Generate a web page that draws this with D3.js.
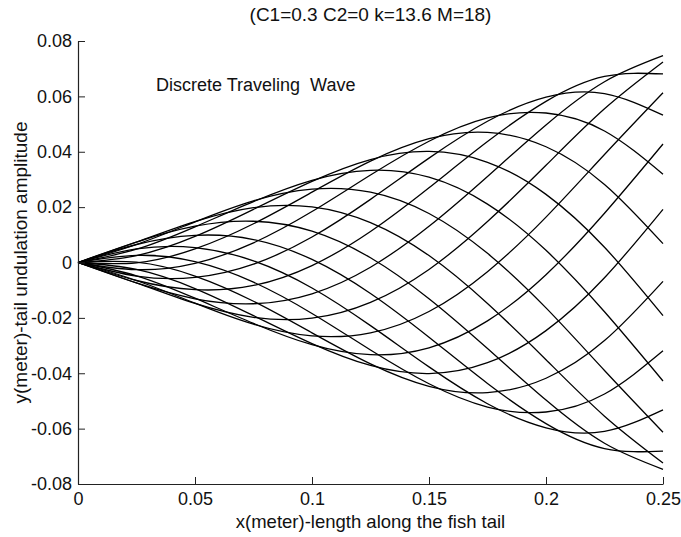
<!DOCTYPE html>
<html>
<head>
  <meta charset="utf-8">
  <title>Discrete Traveling Wave</title>
  <script src="https://cdn.jsdelivr.net/npm/d3@7"></script>
  <style>
    body { margin: 0; background: #fff; }
    text { font-family: "Liberation Sans", Arial, sans-serif; fill: #111; }
    .axis path, .axis line { stroke: #222; stroke-width: 1; }
    .axis text { font-size: 18px; }
  </style>
</head>
<body>
  <svg id="chart"></svg>
  <script>
    // positions along the tail (m)
    var xPos = [0, 0.025, 0.05, 0.075, 0.1, 0.125, 0.15, 0.175, 0.2, 0.225, 0.25];

    // tail displacement (m) of each of the 18 snapshots, read at xPos
    var w01 = [0, 0.0025, 0.0094, 0.0192, 0.0293, 0.0372, 0.0401, 0.0362, 0.0246, 0.0055, -0.0192];
    var w02 = [0, -0.0001, 0.0049, 0.0140, 0.0254, 0.0366, 0.0447, 0.0470, 0.0418, 0.0282, 0.0068];
    var w03 = [0, -0.0026, -0.0003, 0.0071, 0.0184, 0.0316, 0.0438, 0.0522, 0.0540, 0.0475, 0.0319];
    var w04 = [0, -0.0049, -0.0054, -0.0006, 0.0092, 0.0228, 0.0377, 0.0510, 0.0597, 0.0610, 0.0532];
    var w05 = [0, -0.0065, -0.0098, -0.0083, -0.0011, 0.0112, 0.0270, 0.0437, 0.0582, 0.0672, 0.0681];
    var w06 = [0, -0.0074, -0.0131, -0.0149, -0.0113, -0.0017, 0.0131, 0.0311, 0.0497, 0.0653, 0.0747];
    var w07 = [0, -0.0074, -0.0148, -0.0198, -0.0201, -0.0144, -0.0025, 0.0148, 0.0351, 0.0555, 0.0724];
    var w08 = [0, -0.0065, -0.0147, -0.0223, -0.0265, -0.0254, -0.0177, -0.0033, 0.0164, 0.0390, 0.0613];
    var w09 = [0, -0.0048, -0.0129, -0.0220, -0.0297, -0.0333, -0.0308, -0.0211, -0.0044, 0.0178, 0.0428];
    var w10 = [0, -0.0025, -0.0094, -0.0192, -0.0293, -0.0372, -0.0401, -0.0362, -0.0246, -0.0055, 0.0192];
    var w11 = [0, 0.0001, -0.0049, -0.0140, -0.0254, -0.0366, -0.0447, -0.0470, -0.0418, -0.0282, -0.0068];
    var w12 = [0, 0.0026, 0.0003, -0.0071, -0.0184, -0.0316, -0.0438, -0.0522, -0.0540, -0.0475, -0.0319];
    var w13 = [0, 0.0049, 0.0054, 0.0006, -0.0092, -0.0228, -0.0377, -0.0510, -0.0597, -0.0610, -0.0532];
    var w14 = [0, 0.0065, 0.0098, 0.0083, 0.0011, -0.0112, -0.0270, -0.0437, -0.0582, -0.0672, -0.0681];
    var w15 = [0, 0.0074, 0.0131, 0.0149, 0.0113, 0.0017, -0.0131, -0.0311, -0.0497, -0.0653, -0.0747];
    var w16 = [0, 0.0074, 0.0148, 0.0198, 0.0201, 0.0144, 0.0025, -0.0148, -0.0351, -0.0555, -0.0724];
    var w17 = [0, 0.0065, 0.0147, 0.0223, 0.0265, 0.0254, 0.0177, 0.0033, -0.0164, -0.0390, -0.0613];
    var w18 = [0, 0.0048, 0.0129, 0.0220, 0.0297, 0.0333, 0.0308, 0.0211, 0.0044, -0.0178, -0.0428];
    var waves = [w01, w02, w03, w04, w05, w06, w07, w08, w09, w10, w11, w12, w13, w14, w15, w16, w17, w18];

    // axis ticks
    var xTicks = [0, 0.05, 0.1, 0.15, 0.2, 0.25];
    var xTickLabels = ['0', '0.05', '0.1', '0.15', '0.2', '0.25'];
    var yTicks = [-0.08, -0.06, -0.04, -0.02, 0, 0.02, 0.04, 0.06, 0.08];
    var yTickLabels = ['-0.08', '-0.06', '-0.04', '-0.02', '0', '0.02', '0.04', '0.06', '0.08'];

    var W = 681, H = 537;
    var margin = { top: 41, right: 18, bottom: 53, left: 78 };
    var width = W - margin.left - margin.right,
      height = H - margin.top - margin.bottom;

    var x = d3.scaleLinear().domain([0, 0.25]).range([0, width]);
    var y = d3.scaleLinear().domain([-0.08, 0.08]).range([height, 0]);

    var svg = d3.select('#chart')
      .attr('width', W)
      .attr('height', H);

    var g = svg.append('g')
      .attr('transform', 'translate(' + margin.left + ',' + margin.top + ')');

    var line = d3.line()
      .x((d, i) => x(xPos[i]))
      .y(d => y(d))
      .curve(d3.curveNatural);

    g.selectAll('path.wave')
      .data(waves)
      .enter()
      .append('path')
      .attr('class', 'wave')
      .attr('d', line)
      .style('fill', 'none')
      .style('stroke', '#000')
      .style('stroke-width', 1.3);

    var xAxis = d3.axisBottom(x)
      .tickValues(xTicks)
      .tickFormat((d, i) => xTickLabels[i])
      .tickSizeInner(-7)
      .tickSizeOuter(0)
      .tickPadding(8);

    var yAxis = d3.axisLeft(y)
      .tickValues(yTicks)
      .tickFormat((d, i) => yTickLabels[i])
      .tickSizeInner(-7)
      .tickSizeOuter(0)
      .tickPadding(6);

    g.append('g')
      .attr('class', 'axis')
      .attr('transform', 'translate(0,' + height + ')')
      .call(xAxis);

    g.append('g')
      .attr('class', 'axis')
      .call(yAxis);

    g.selectAll('.axis .domain').style('stroke-width', 1.2);

    svg.append('text')
      .attr('x', margin.left + width / 2)
      .attr('y', 21)
      .attr('text-anchor', 'middle')
      .style('font-size', '19px')
      .text('(C1=0.3 C2=0 k=13.6 M=18)');

    svg.append('text')
      .attr('x', 156)
      .attr('y', 91)
      .style('font-size', '18px')
      .style('white-space', 'pre')
      .text('Discrete Traveling  Wave');

    svg.append('text')
      .attr('x', margin.left + width / 2)
      .attr('y', 528)
      .attr('text-anchor', 'middle')
      .style('font-size', '18.5px')
      .text('x(meter)-length along the fish tail');

    svg.append('text')
      .attr('transform', 'translate(27,' + (margin.top + height / 2) + ') rotate(-90)')
      .attr('text-anchor', 'middle')
      .style('font-size', '19px')
      .text('y(meter)-tail undulation amplitude');
  </script>
</body>
</html>
